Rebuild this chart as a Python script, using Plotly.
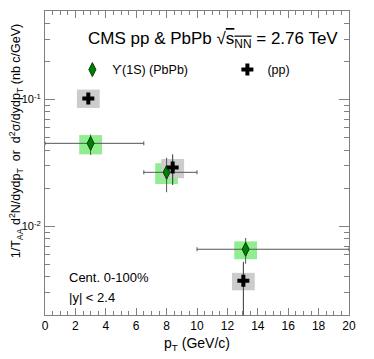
import plotly.graph_objects as go

# PbPb Upsilon(1S) points
pbpb_pt = [3.0, 8.0, 13.2]
pbpb_pt_lo = [0.0, 6.5, 10.0]
pbpb_pt_hi = [6.5, 10.0, 20.0]
pbpb_val = [0.0452, 0.0267, 0.0066]
pbpb_stat_up = [0.053, 0.0348, 0.0081]
pbpb_stat_dn = [0.0366, 0.0186, 0.00507]
pbpb_syst_up = [0.0525, 0.0315, 0.00762]
pbpb_syst_dn = [0.037, 0.0216, 0.00551]

# pp points
pp_pt = [2.85, 8.4, 13.05]
pp_val = [0.102, 0.0292, 0.00373]
pp_stat_up = [0.104, 0.037, 0.00525]
pp_stat_dn = [0.100, 0.0212, 0.0015]
pp_syst_up = [0.12, 0.034, 0.0043]
pp_syst_dn = [0.086, 0.024, 0.00313]

box_half = 0.75

font = "Liberation Sans, Arial, sans-serif"
axis_col = "#808080"

fig = go.Figure()

# systematic boxes
shapes = []
for x, lo, hi in zip(pbpb_pt, pbpb_syst_dn, pbpb_syst_up):
    shapes.append(dict(type="rect", xref="x", yref="y", x0=x - box_half, x1=x + box_half,
                       y0=lo, y1=hi, fillcolor="#90ee90", line_width=0, layer="below"))
for x, lo, hi in zip(pp_pt, pp_syst_dn, pp_syst_up):
    shapes.append(dict(type="rect", xref="x", yref="y", x0=x - box_half, x1=x + box_half,
                       y0=lo, y1=hi, fillcolor="#cccccc", line_width=0, layer="below"))

fig.add_trace(go.Scatter(
    x=pbpb_pt, y=pbpb_val, mode="markers", name="\u03d2(1S) (PbPb)", legend="legend",
    marker=dict(symbol="diamond-tall", size=10, color="#008000",
                line=dict(color="#004000", width=1)),
    error_x=dict(type="data", symmetric=False,
                 array=[h - x for h, x in zip(pbpb_pt_hi, pbpb_pt)],
                 arrayminus=[x - l for l, x in zip(pbpb_pt_lo, pbpb_pt)],
                 color="#555555", thickness=1, width=2),
    error_y=dict(type="data", symmetric=False,
                 array=[u - v for u, v in zip(pbpb_stat_up, pbpb_val)],
                 arrayminus=[v - d for d, v in zip(pbpb_stat_dn, pbpb_val)],
                 color="#555555", thickness=1, width=0),
))
fig.add_trace(go.Scatter(
    x=pp_pt, y=pp_val, mode="markers", name="(pp)", legend="legend2",
    marker=dict(symbol="cross", size=10, color="black"),
    error_y=dict(type="data", symmetric=False,
                 array=[u - v for u, v in zip(pp_stat_up, pp_val)],
                 arrayminus=[v - d for d, v in zip(pp_stat_dn, pp_val)],
                 color="#333333", thickness=1, width=0),
))

leg = dict(yanchor="middle", xanchor="left", y=0.806, font=dict(size=12.5),
           bgcolor="rgba(0,0,0,0)", itemclick=False, itemwidth=30)

# the page body adds an 8px offset, so the figure is 8px smaller on each side
fig.update_layout(
    width=366, height=351,
    margin=dict(l=37, r=25, t=3, b=44),
    paper_bgcolor="white", plot_bgcolor="white",
    font=dict(family=font, color="black", size=12),
    shapes=shapes,
    showlegend=True,
    legend=dict(leg, x=0.09),
    legend2=dict(leg, x=0.6),
    annotations=[
        dict(text="CMS pp &amp; PbPb \u221a<span style='text-decoration:overline'>s<sub>NN</sub></span> = 2.76 TeV",
             xref="paper", yref="paper", x=0.135, y=0.905, xanchor="left",
             yanchor="middle", showarrow=False, font=dict(size=17)),
        dict(text="Cent. 0-100%", xref="paper", yref="paper", x=0.072, y=0.125,
             xanchor="left", yanchor="middle", showarrow=False, font=dict(size=13)),
        dict(text="|y| &lt; 2.4", xref="paper", yref="paper", x=0.072, y=0.058,
             xanchor="left", yanchor="middle", showarrow=False, font=dict(size=13)),
        dict(text="1/T<sub>AA</sub> d<sup>2</sup>N/dydp<sub>T</sub>  or  d<sup>2</sup>\u03c3/dydp<sub>T</sub> (nb c/GeV)",
             xref="paper", yref="paper", x=-0.095, y=0.572, xanchor="center",
             yanchor="middle", textangle=-90, showarrow=False, font=dict(size=12.5)),
    ],
)

fig.update_xaxes(
    range=[0, 20], dtick=2, ticks="inside", ticklen=7, tickcolor=axis_col,
    showline=True, linecolor=axis_col, linewidth=1, mirror="ticks",
    showgrid=False, zeroline=False, tickfont=dict(size=12), automargin=False,
    minor=dict(dtick=0.5, ticks="inside", ticklen=4, tickcolor=axis_col, showgrid=False),
    title=dict(text="p<sub>T</sub> (GeV/c)", font=dict(size=14), standoff=5),
)
fig.update_yaxes(
    type="log", range=[-2.699, -0.301], automargin=False,
    tickvals=[0.01, 0.1], ticktext=["10<sup>-2</sup>", "10<sup>-1</sup>"],
    ticks="inside", ticklen=10, tickcolor=axis_col,
    showline=True, linecolor=axis_col, linewidth=1, mirror="ticks",
    showgrid=False, zeroline=False, tickfont=dict(size=11), ticklabelstandoff=1,
    minor=dict(tickvals=[0.002, 0.003, 0.004, 0.005, 0.006, 0.007, 0.008, 0.009,
                         0.02, 0.03, 0.04, 0.05, 0.06, 0.07, 0.08, 0.09, 0.2, 0.3, 0.4, 0.5],
               ticks="inside", ticklen=5, tickcolor=axis_col, showgrid=False),
)

fig.write_html("out.html")
